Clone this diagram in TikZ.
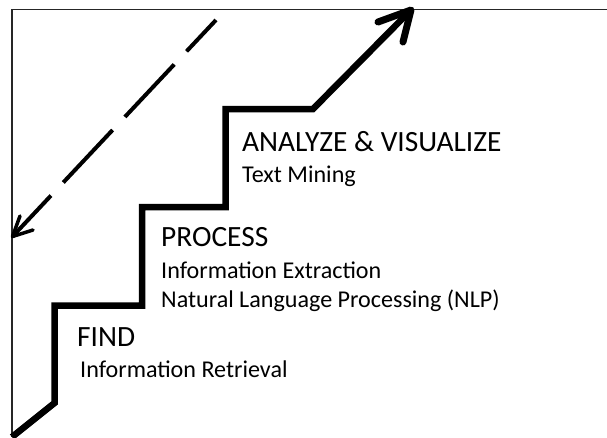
\documentclass[tikz,border=0pt]{standalone}
\usepackage{fontspec}
\setmainfont{Carlito}
\begin{document}
\begin{tikzpicture}[x=1pt,y=-1pt,
  frameline/.style={line width=1.5pt,black!85},
  stair/.style={line width=6.5pt,line join=miter,line cap=butt},
  stairtip/.style={line width=7pt,line cap=round,line join=round},
  dashline/.style={line width=4pt,dash pattern=on 72pt off 18pt,dash phase=29pt},
  dashtip/.style={line width=3.5pt,line cap=round,line join=round},
  head/.style={anchor=base west,inner sep=0pt,font=\fontsize{29.4}{31}\selectfont},
  sub/.style={anchor=base west,inner sep=0pt,font=\fontsize{24.1}{26}\selectfont}]
\useasboundingbox (0,0) rectangle (607,437);
% frame
\draw[frameline] (12,437) -- (12,9.5) -- (607,9.5);
% dashed arrow
\coordinate (dA) at (216,20);
\coordinate (dB) at (12.5,236.5);
\draw[dashline] (dA) -- (dB);
\draw[dashtip] (20,216) -- (dB) -- (33,230);
% stairs
\coordinate (s0) at (12,437);
\coordinate (s1) at (54.5,403);
\coordinate (s2) at (54.5,305.5);
\coordinate (s3) at (142,305.5);
\coordinate (s4) at (142,207);
\coordinate (s5) at (225.5,207);
\coordinate (s6) at (225.5,109);
\coordinate (s7) at (313,109);
\coordinate (s8) at (408,13);
\coordinate (tip) at (411,10);
\draw[stair] (s0) -- (s1) -- (s2) -- (s3) -- (s4) -- (s5) -- (s6) -- (s7) -- (s8);
\draw[stairtip] (378,22) -- (tip) -- (403,42);
% texts
\node[head] (ana) at (242,151) {ANALYZE \& VISUALIZE};
\node[sub] (tm) at (242,182) {Text Mining};
\node[head] (proc) at (161,246.5) {PROCESS};
\node[sub] (ie) at (161,278.5) {Information Extraction};
\node[sub] (nlp) at (161,307) {Natural Language Processing (NLP)};
\node[head] (find) at (77,346.5) {FIND};
\node[sub] (ir) at (80,377) {Information Retrieval};
\end{tikzpicture}
\end{document}
